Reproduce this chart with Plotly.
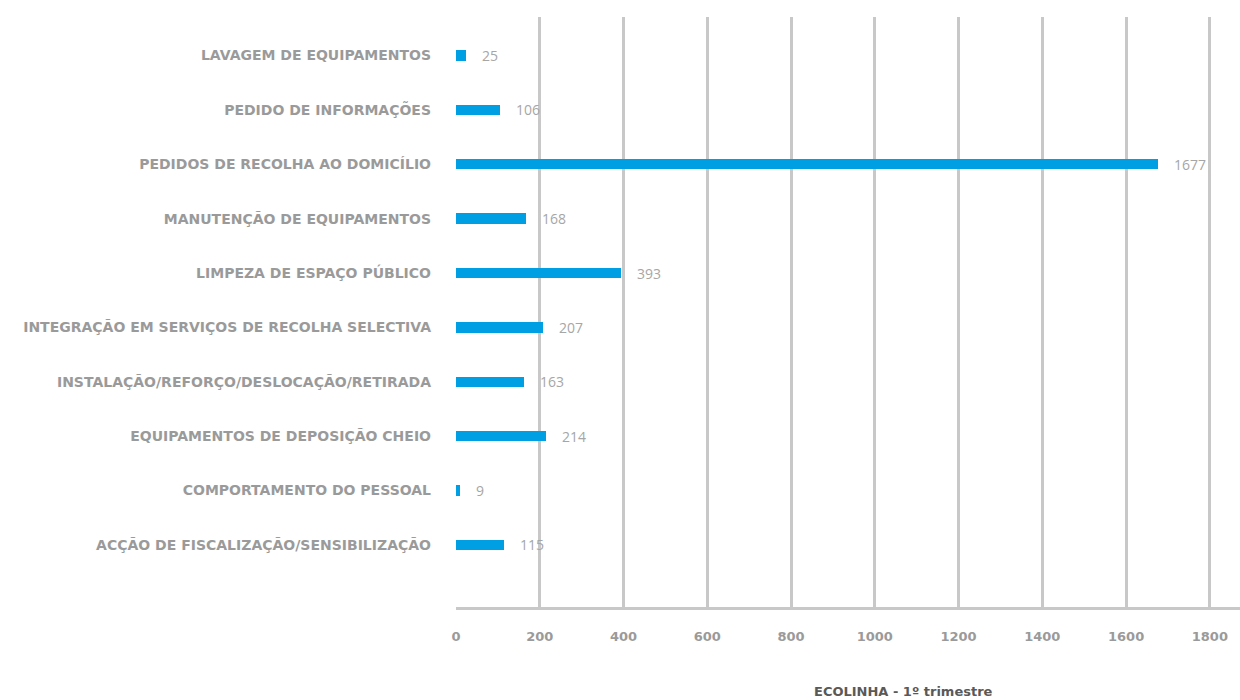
import plotly.graph_objects as go

categories = [
    "ACÇÃO DE FISCALIZAÇÃO/SENSIBILIZAÇÃO",
    "COMPORTAMENTO DO PESSOAL",
    "EQUIPAMENTOS DE DEPOSIÇÃO CHEIO",
    "INSTALAÇÃO/REFORÇO/DESLOCAÇÃO/RETIRADA",
    "INTEGRAÇÃO EM SERVIÇOS DE RECOLHA SELECTIVA",
    "LIMPEZA DE ESPAÇO PÚBLICO",
    "MANUTENÇÃO DE EQUIPAMENTOS",
    "PEDIDOS DE RECOLHA AO DOMICÍLIO",
    "PEDIDO DE INFORMAÇÕES",
    "LAVAGEM DE EQUIPAMENTOS",
]
values = [115, 9, 214, 163, 207, 393, 168, 1677, 106, 25]
x_ticks = [0, 200, 400, 600, 800, 1000, 1200, 1400, 1600, 1800]
title_text = "ECOLINHA - 1º trimestre"

BAR = "#009FE3"
GRID = "#C8C8C8"
LABEL = "#9A9A9A"
FONT = "DejaVu Sans"

fig = go.Figure()
fig.add_trace(go.Bar(
    y=categories,
    x=values,
    orientation="h",
    marker=dict(color=BAR, line=dict(width=0)),
    width=0.19,
    hoverinfo="x+y",
))

# value labels to the right of each bar
for cat, v in zip(categories, values):
    fig.add_annotation(
        x=v, y=cat, text=str(v), showarrow=False,
        xanchor="left", xshift=14,
        font=dict(family="Open Sans", size=14, color="#A6A6A6"),
    )

fig.add_annotation(
    x=0.571, y=-0.144, xref="paper", yref="paper",
    xanchor="center", yanchor="middle",
    text="<b>" + title_text + "</b>", showarrow=False,
    font=dict(family=FONT, size=13, color="#595959"),
)

fig.update_layout(
    width=1240, height=700,
    margin=dict(l=456, r=0, t=17, b=93),
    plot_bgcolor="white", paper_bgcolor="white",
    showlegend=False,
    bargap=0,
    xaxis=dict(
        range=[0, 1872],
        tickvals=x_ticks,
        ticktext=[str(t) for t in x_ticks],
        showgrid=True, gridcolor=GRID, gridwidth=3,
        zeroline=False,
        showline=True, linecolor=GRID, linewidth=3,
        ticks="", ticklabelstandoff=15,
        tickfont=dict(family=FONT, size=13, color=LABEL, weight="bold"),
        fixedrange=True,
    ),
    yaxis=dict(
        categoryorder="array", categoryarray=categories,
        range=[-1.14, 9.706],
        showgrid=False, zeroline=False, showline=False,
        ticks="", ticklabelstandoff=24,
        tickfont=dict(family=FONT, size=14, color=LABEL, weight="bold"),
        fixedrange=True,
    ),
)

fig.write_html("out.html")
